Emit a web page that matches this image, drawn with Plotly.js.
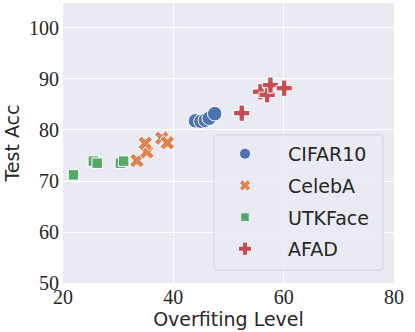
<!DOCTYPE html>
<html><head><meta charset="utf-8">
<script src="https://cdn.plot.ly/plotly-3.0.1.min.js"></script>
<style>html,body{margin:0;padding:0;background:#fff}#chart{width:415px;height:332px}</style>
</head><body><div id="chart"></div>
<script>
const cifarX = [44.0, 45.0, 45.8, 46.5, 47.5];
const cifarY = [81.8, 81.7, 81.9, 82.3, 83.2];
const celebX = [33.4, 35.2, 34.9, 37.9, 38.9];
const celebY = [74.0, 75.7, 77.4, 78.4, 77.5];
const utkX = [21.9, 25.5, 26.2, 30.4, 31.0];
const utkY = [71.2, 73.9, 73.5, 73.5, 73.9];
const afadX = [52.4, 55.8, 57.0, 57.6, 60.1];
const afadY = [83.3, 87.5, 86.9, 88.8, 88.2];
const seriesNames = ['CIFAR10', 'CelebA', 'UTKFace', 'AFAD'];
const xTicks = [20, 40, 60, 80];
const yTicks = [50, 60, 70, 80, 90, 100];

const colors = ['#4c72b0', '#dd8452', '#55a868', '#c44e52'];
const symbols = ['circle', 'x', 'square', 'cross'];
const sizes = [14.5, 13, 10.5, 13.5];
const legSizes = [10, 9, 7.5, 10];
const xs = [cifarX, celebX, utkX, afadX];
const ys = [cifarY, celebY, utkY, afadY];

const data = [];
for (let i = 0; i < 4; i++) {
  data.push({type:'scatter', mode:'markers', name:seriesNames[i], x:xs[i], y:ys[i],
    showlegend:false, legendgroup:'g'+i,
    marker:{color:colors[i], symbol:symbols[i], size:sizes[i], line:{color:'#ffffff', width:1}}});
}
for (let i = 0; i < 4; i++) {
  data.push({type:'scatter', mode:'markers', name:seriesNames[i], x:[null], y:[null],
    showlegend:true, legendgroup:'g'+i,
    marker:{color:colors[i], symbol:symbols[i], size:legSizes[i], line:{color:'#ffffff', width:0}}});
}

const lx0 = 0.456, lx1 = 0.967, ly0 = 0.046, ly1 = 0.529, rx = 0.012, ry = 0.014;
const boxPath = `M ${lx0+rx} ${ly0} L ${lx1-rx} ${ly0} Q ${lx1} ${ly0} ${lx1} ${ly0+ry} L ${lx1} ${ly1-ry} Q ${lx1} ${ly1} ${lx1-rx} ${ly1} L ${lx0+rx} ${ly1} Q ${lx0} ${ly1} ${lx0} ${ly1-ry} L ${lx0} ${ly0+ry} Q ${lx0} ${ly0} ${lx0+rx} ${ly0} Z`;

const layout = {
  width:415, height:332,
  margin:{l:63, r:21, t:3, b:49},
  paper_bgcolor:'#ffffff', plot_bgcolor:'#eaeaf2',
  showlegend:true,
  legend:{x:0.42, y:0.529, xanchor:'left', yanchor:'top',
    bgcolor:'rgba(0,0,0,0)', borderwidth:0, itemwidth:76,
    traceorder:'grouped', tracegroupgap:4,
    font:{family:'DejaVu Sans', size:19, color:'#262626'}},
  shapes:[{type:'path', xref:'paper', yref:'paper', path:boxPath, layer:'above',
    fillcolor:'rgba(234,234,242,0.8)', line:{color:'#d2d2d9', width:1}}],
  xaxis:{range:[20,80], tickvals:xTicks, ticktext:xTicks.map(String),
    showgrid:true, gridcolor:'#ffffff', gridwidth:1, zeroline:false, showline:false, ticks:'',
    tickfont:{family:'Liberation Serif', size:20, color:'#262626'},
    title:{text:'Overfiting Level', font:{family:'DejaVu Sans', size:19, color:'#262626'}, standoff:4}},
  yaxis:{range:[50,104.9], tickvals:yTicks, ticktext:yTicks.map(String),
    showgrid:true, gridcolor:'#ffffff', gridwidth:1, zeroline:false, showline:false, ticks:'',
    ticklabelstandoff:3,
    tickfont:{family:'Liberation Serif', size:20, color:'#262626'},
    title:{text:'Test Acc', font:{family:'DejaVu Sans', size:19, color:'#262626'}, standoff:4}}
};
Plotly.newPlot('chart', data, layout, {staticPlot:true, displayModeBar:false});
</script></body></html>
